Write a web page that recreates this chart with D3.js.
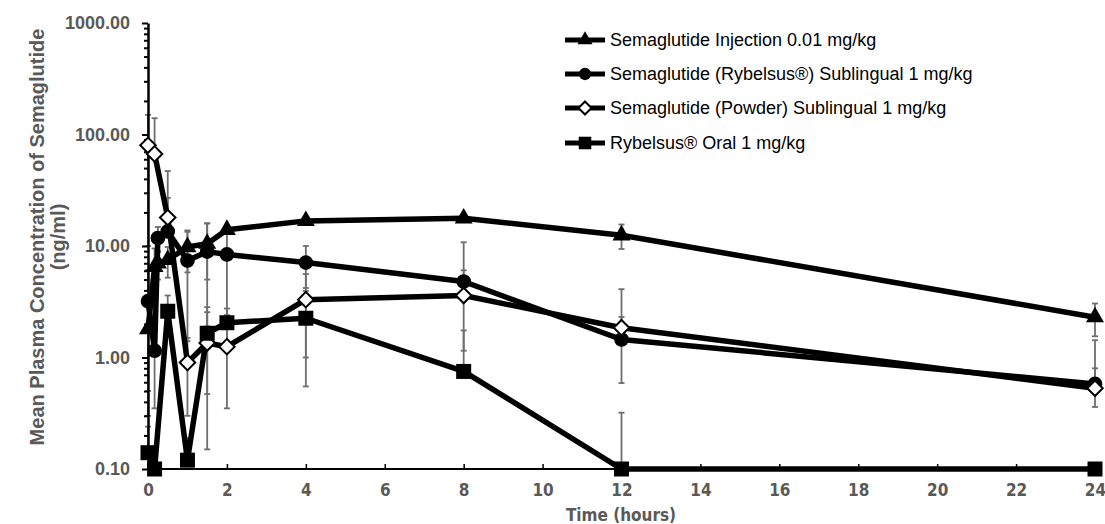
<!DOCTYPE html>
<html>
<head>
<meta charset="utf-8">
<script src="https://cdn.jsdelivr.net/npm/d3@7"></script>
<style>
  body { margin: 0; background: #fff; }
  .ytick text { font-family: "Liberation Sans", Arial, sans-serif; font-weight: bold; font-size: 18px; fill: #595959; }
  .xtick text { font-family: "Liberation Sans Narrow", "DejaVu Sans Condensed", Arial, sans-serif; font-stretch: condensed; font-weight: bold; font-size: 17px; fill: #595959; }
</style>
</head>
<body>
<div id="chart"></div>
<script>
const width = 1105,
  height = 524;

// sampling times (hours)
const times = [0, 0.167, 0.25, 0.5, 1, 1.5, 2, 4, 8, 12, 24];

// mean concentrations (ng/ml), null = not sampled
const injection = [1.8, 6.5, 7.0, 7.5, 9.8, 10.5, 14, 16.8, 17.7, 12.5, 2.3];
const rybSub = [3.2, 1.15, 11.8, 13.5, 7.4, 8.9, 8.4, 7.1, 4.8, 1.45, 0.58];
const powderSub = [80, 67, null, 18, 0.9, 1.35, 1.25, 3.3, 3.6, 1.85, 0.53];
const rybOral = [0.14, 0.1, null, 2.6, 0.12, 1.65, 2.05, 2.25, 0.75, 0.1, 0.1];

// standard deviations
const injectionSd = [1.3, 3, 2, 2.3, 4, 5.5, 0.4, 0.8, 0.8, 3.1, 0.75];
const rybSubSd = [2.9, 0.8, 3, 13.5, 6, 7, 6, 2.9, 6, 0.86, 0.22];
const powderSubSd = [70, 73, null, 29, 0.6, 1.2, 0.9, 2.3, 2.45, 2.25, 0.9];
const rybOralSd = [0.1, 0, null, 1, 0.07, 1.18, 0.7, 1.7, 1.0, 0.22, 0];

const xTicks = d3.range(0, 25, 2);
const yTicks = [0.1, 1, 10, 100, 1000];

const seriesNames = [
  "Semaglutide Injection 0.01 mg/kg",
  "Semaglutide (Rybelsus®) Sublingual 1 mg/kg",
  "Semaglutide (Powder) Sublingual 1 mg/kg",
  "Rybelsus® Oral 1 mg/kg",
];

const series = [
  { name: seriesNames[0], values: injection, sd: injectionSd, shape: "triangle" },
  { name: seriesNames[1], values: rybSub, sd: rybSubSd, shape: "circle" },
  { name: seriesNames[2], values: powderSub, sd: powderSubSd, shape: "diamond" },
  { name: seriesNames[3], values: rybOral, sd: rybOralSd, shape: "square" },
];

const x = d3.scaleLinear().domain([0, 24]).range([148, 1095]);
const y = d3.scaleLog().domain([0.1, 1000]).range([469, 23]);

const svg = d3
  .select("#chart")
  .append("svg")
  .attr("width", width)
  .attr("height", height);

// error bars
const errG = svg.append("g").attr("stroke", "#6e6e6e").attr("stroke-width", 1.8);
series.forEach(function (s) {
  s.values.forEach(function (v, i) {
    const sd = s.sd[i];
    if (v == null || !sd) return;
    const cx = x(times[i]);
    const hi = v + sd;
    const lo = v - sd;
    errG.append("line").attr("x1", cx).attr("x2", cx).attr("y1", y(v)).attr("y2", y(hi));
    errG.append("line").attr("x1", cx - 3).attr("x2", cx + 3).attr("y1", y(hi)).attr("y2", y(hi));
    if (lo > 0.1) {
      errG.append("line").attr("x1", cx).attr("x2", cx).attr("y1", y(v)).attr("y2", y(lo));
      errG.append("line").attr("x1", cx - 3).attr("x2", cx + 3).attr("y1", y(lo)).attr("y2", y(lo));
    }
  });
});

// axes
const minor = [];
[0.1, 1, 10, 100].forEach(function (d) {
  for (let k = 2; k <= 9; k++) minor.push(d * k);
});

const yAxis = svg
  .append("g")
  .attr("class", "ytick")
  .attr("transform", "translate(148,0)")
  .call(d3.axisLeft(y).tickValues(yTicks).tickFormat(d3.format(".2f")).tickSize(6).tickSizeOuter(0).tickPadding(12));
yAxis.select(".domain").attr("stroke", "#000").attr("stroke-width", 2.5);
yAxis.selectAll(".tick line").attr("stroke", "#000").attr("stroke-width", 2);

svg
  .append("g")
  .attr("transform", "translate(148,0)")
  .call(d3.axisLeft(y).tickValues(minor).tickFormat("").tickSize(4).tickSizeOuter(0))
  .call(function (g) {
    g.select(".domain").remove();
    g.selectAll(".tick line").attr("stroke", "#000").attr("stroke-width", 2);
  });

const xAxis = svg
  .append("g")
  .attr("class", "xtick")
  .attr("transform", "translate(0,469)")
  .call(d3.axisBottom(x).tickValues(xTicks).tickSizeInner(-5).tickSizeOuter(0).tickPadding(15));
xAxis.select(".domain").attr("stroke", "#000").attr("stroke-width", 2).attr("d", "M148,0H1100");
xAxis.selectAll(".tick line").attr("stroke", "#000").attr("stroke-width", 1.5);

// axis titles
svg
  .append("text")
  .attr("x", 621)
  .attr("y", 521)
  .attr("text-anchor", "middle")
  .style("font-family", '"Liberation Sans Narrow", "DejaVu Sans Condensed", Arial, sans-serif')
  .style("font-stretch", "condensed")
  .style("font-weight", "bold")
  .style("font-size", "17px")
  .style("fill", "#595959")
  .text("Time (hours)");

const yTitle = svg
  .append("text")
  .attr("transform", "translate(44,237) rotate(-90)")
  .attr("text-anchor", "middle")
  .style("font-family", '"Liberation Sans", Arial, sans-serif')
  .style("font-weight", "bold")
  .style("font-size", "20px")
  .style("fill", "#595959");
yTitle.append("tspan").attr("x", 0).attr("dy", 0).text("Mean Plasma Concentration of Semaglutide");
yTitle.append("tspan").attr("x", 0).attr("dy", 21).text("(ng/ml)");

// lines
const line = d3
  .line()
  .x(function (d) { return x(d[0]); })
  .y(function (d) { return y(d[1]); });

series.forEach(function (s) {
  const pts = times.map(function (t, i) { return [t, s.values[i]]; }).filter(function (d) { return d[1] != null; });
  svg
    .append("path")
    .datum(pts)
    .attr("d", line)
    .attr("fill", "none")
    .attr("stroke", "#000")
    .attr("stroke-width", 5.5)
    .attr("stroke-linejoin", "round");
});

function marker(g, shape, scale) {
  if (shape === "triangle") {
    g.append("path").attr("d", d3.symbol(d3.symbolTriangle, 140 * scale)()).attr("fill", "#000");
  } else if (shape === "circle") {
    g.append("path").attr("d", d3.symbol(d3.symbolCircle, 170 * scale)()).attr("fill", "#000");
  } else if (shape === "diamond") {
    g.append("path")
      .attr("d", d3.symbol(d3.symbolSquare, 120 * scale)())
      .attr("transform", "rotate(45)")
      .attr("fill", "#fff")
      .attr("stroke", "#000")
      .attr("stroke-width", 2);
  } else {
    g.append("path").attr("d", d3.symbol(d3.symbolSquare, 225 * scale)()).attr("fill", "#000");
  }
}

series.forEach(function (s) {
  s.values.forEach(function (v, i) {
    if (v == null) return;
    const g = svg.append("g").attr("transform", "translate(" + x(times[i]) + "," + y(v) + ")");
    marker(g, s.shape, 1);
  });
});

// legend
const legendY = [40, 74, 108, 143];
series.forEach(function (s, i) {
  const g = svg.append("g").attr("transform", "translate(565," + legendY[i] + ")");
  g.append("line").attr("x1", 0).attr("x2", 40).attr("stroke", "#000").attr("stroke-width", 5);
  const m = g.append("g").attr("transform", "translate(20,0)");
  marker(m, s.shape, 0.7);
  g.append("text")
    .attr("x", 45)
    .attr("y", 6)
    .style("font-family", '"Liberation Sans", Arial, sans-serif')
    .style("font-size", "18px")
    .style("fill", "#000")
    .text(s.name);
});
</script>
</body>
</html>
